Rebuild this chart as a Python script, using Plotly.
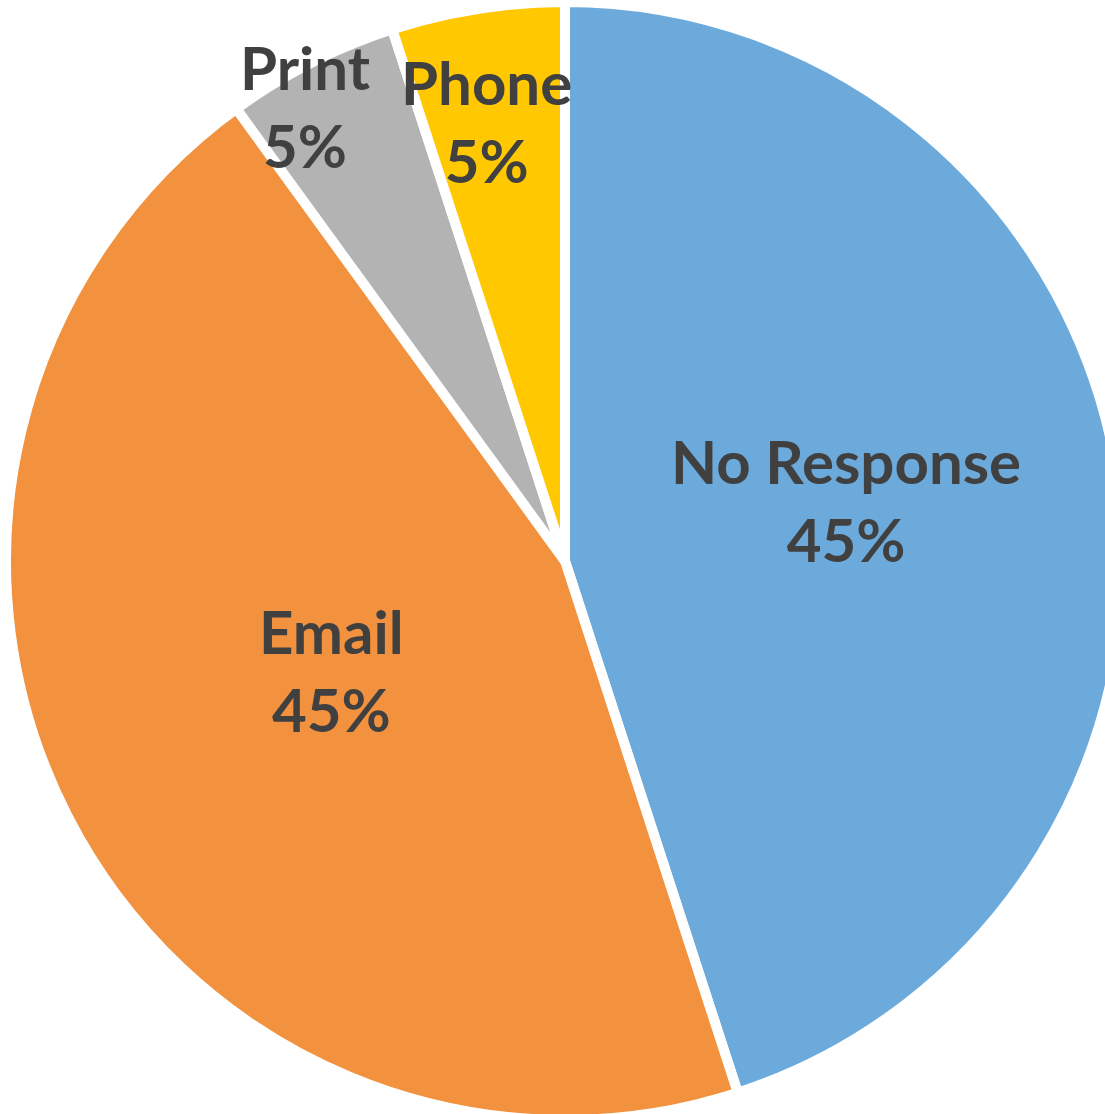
import plotly.graph_objects as go

# Survey response channel shares (percent), clockwise from 12 o'clock
channels = ["No Response", "Email", "Print", "Phone"]
shares = [45, 45, 5, 5]
slice_colors = ["#6CAADC", "#F2913E", "#B3B3B3", "#FFC800"]

# Canvas is a little wider/taller than the window so the pie can bleed off the right edge
W, H = 1130, 1125
CX, CY, R = 565, 561, 559  # pie centre and radius in pixels

# Label block centres (pixels) for each channel
label_centres = {
    "No Response": (846, 500),
    "Email": (331, 670),
    "Print": (305, 106),
    "Phone": (486, 121),
}

fig = go.Figure(
    go.Pie(
        labels=channels,
        values=shares,
        sort=False,
        direction="clockwise",
        rotation=0,
        marker=dict(colors=slice_colors, line=dict(color="white", width=10)),
        textinfo="none",
        hoverinfo="skip",
        showlegend=False,
        domain=dict(
            x=[(CX - R) / W, (CX + R) / W],
            y=[(H - (CY + R)) / H, (H - (CY - R)) / H],
        ),
    )
)

for name, pct in zip(channels, shares):
    px, py = label_centres[name]
    fig.add_annotation(
        x=px / W,
        y=1 - py / H,
        xref="paper",
        yref="paper",
        xanchor="center",
        yanchor="middle",
        text=f"{name}<br>{pct}%",
        showarrow=False,
        font=dict(family="Lato", size=60, color="#404040", weight="bold"),
    )

fig.update_layout(
    width=W,
    height=H,
    margin=dict(l=0, r=0, t=0, b=0),
    paper_bgcolor="white",
    plot_bgcolor="white",
)

fig.write_html(
    "out.html",
    post_script=(
        "document.body.style.margin='0';"
        "document.body.style.overflow='hidden';"
        "document.documentElement.style.overflow='hidden';"
    ),
)
